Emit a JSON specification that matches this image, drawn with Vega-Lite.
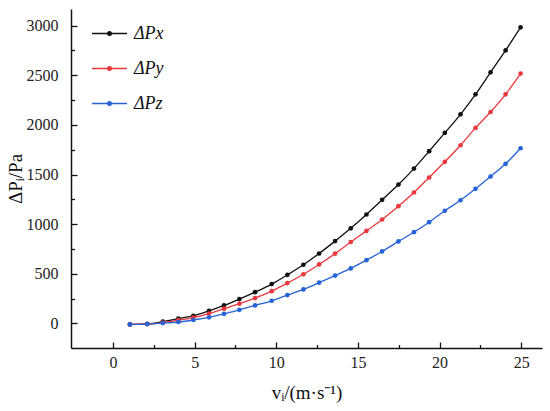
{
  "$schema": "https://vega.github.io/schema/vega-lite/v6.json",
  "width": 471,
  "height": 339,
  "autosize": {"type": "none"},
  "padding": {"left": 71, "top": 9, "right": 8, "bottom": 63},
  "background": "white",
  "config": {
    "view": {"stroke": null},
    "axis": {
      "grid": false,
      "domainColor": "#111111",
      "domainWidth": 1.5,
      "tickColor": "#111111",
      "tickWidth": 1.3,
      "labelFont": "Liberation Serif",
      "labelFontSize": 16,
      "labelColor": "#222222",
      "titleFont": "Liberation Serif",
      "titleFontSize": 19,
      "titleFontWeight": "normal",
      "titleColor": "#111111",
      "format": "d"
    }
  },
  "datasets": {
    "pts": [
      {"v": 1.04, "s": "ΔPx", "dp": -10}, {"v": 2.10, "s": "ΔPx", "dp": -5}, {"v": 3.05, "s": "ΔPx", "dp": 17}, {"v": 4.00, "s": "ΔPx", "dp": 48}, {"v": 4.92, "s": "ΔPx", "dp": 76}, {"v": 5.88, "s": "ΔPx", "dp": 126}, {"v": 6.80, "s": "ΔPx", "dp": 181}, {"v": 7.74, "s": "ΔPx", "dp": 245}, {"v": 8.70, "s": "ΔPx", "dp": 315}, {"v": 9.72, "s": "ΔPx", "dp": 396}, {"v": 10.68, "s": "ΔPx", "dp": 489}, {"v": 11.66, "s": "ΔPx", "dp": 591}, {"v": 12.62, "s": "ΔPx", "dp": 704}, {"v": 13.60, "s": "ΔPx", "dp": 829}, {"v": 14.56, "s": "ΔPx", "dp": 958}, {"v": 15.52, "s": "ΔPx", "dp": 1097}, {"v": 16.48, "s": "ΔPx", "dp": 1245}, {"v": 17.48, "s": "ΔPx", "dp": 1399}, {"v": 18.43, "s": "ΔPx", "dp": 1560}, {"v": 19.36, "s": "ΔPx", "dp": 1735}, {"v": 20.32, "s": "ΔPx", "dp": 1920}, {"v": 21.28, "s": "ΔPx", "dp": 2107}, {"v": 22.20, "s": "ΔPx", "dp": 2308}, {"v": 23.12, "s": "ΔPx", "dp": 2530}, {"v": 24.04, "s": "ΔPx", "dp": 2751}, {"v": 24.96, "s": "ΔPx", "dp": 2983},
      {"v": 1.04, "s": "ΔPy", "dp": -10}, {"v": 2.10, "s": "ΔPy", "dp": -6}, {"v": 3.05, "s": "ΔPy", "dp": 8}, {"v": 4.00, "s": "ΔPy", "dp": 32}, {"v": 4.92, "s": "ΔPy", "dp": 58}, {"v": 5.88, "s": "ΔPy", "dp": 99}, {"v": 6.80, "s": "ΔPy", "dp": 148}, {"v": 7.74, "s": "ΔPy", "dp": 198}, {"v": 8.70, "s": "ΔPy", "dp": 255}, {"v": 9.72, "s": "ΔPy", "dp": 325}, {"v": 10.68, "s": "ΔPy", "dp": 406}, {"v": 11.66, "s": "ΔPy", "dp": 495}, {"v": 12.62, "s": "ΔPy", "dp": 594}, {"v": 13.60, "s": "ΔPy", "dp": 703}, {"v": 14.56, "s": "ΔPy", "dp": 820}, {"v": 15.52, "s": "ΔPy", "dp": 932}, {"v": 16.48, "s": "ΔPy", "dp": 1047}, {"v": 17.48, "s": "ΔPy", "dp": 1181}, {"v": 18.43, "s": "ΔPy", "dp": 1319}, {"v": 19.36, "s": "ΔPy", "dp": 1470}, {"v": 20.32, "s": "ΔPy", "dp": 1628}, {"v": 21.28, "s": "ΔPy", "dp": 1795}, {"v": 22.20, "s": "ΔPy", "dp": 1970}, {"v": 23.12, "s": "ΔPy", "dp": 2130}, {"v": 24.04, "s": "ΔPy", "dp": 2308}, {"v": 24.96, "s": "ΔPy", "dp": 2517},
      {"v": 1.04, "s": "ΔPz", "dp": -10}, {"v": 2.10, "s": "ΔPz", "dp": -7}, {"v": 3.05, "s": "ΔPz", "dp": 3}, {"v": 4.00, "s": "ΔPz", "dp": 14}, {"v": 4.92, "s": "ΔPz", "dp": 34}, {"v": 5.88, "s": "ΔPz", "dp": 61}, {"v": 6.80, "s": "ΔPz", "dp": 96}, {"v": 7.74, "s": "ΔPz", "dp": 137}, {"v": 8.70, "s": "ΔPz", "dp": 181}, {"v": 9.72, "s": "ΔPz", "dp": 228}, {"v": 10.68, "s": "ΔPz", "dp": 285}, {"v": 11.66, "s": "ΔPz", "dp": 342}, {"v": 12.62, "s": "ΔPz", "dp": 410}, {"v": 13.60, "s": "ΔPz", "dp": 482}, {"v": 14.56, "s": "ΔPz", "dp": 554}, {"v": 15.52, "s": "ΔPz", "dp": 637}, {"v": 16.48, "s": "ΔPz", "dp": 725}, {"v": 17.48, "s": "ΔPz", "dp": 826}, {"v": 18.43, "s": "ΔPz", "dp": 919}, {"v": 19.36, "s": "ΔPz", "dp": 1020}, {"v": 20.32, "s": "ΔPz", "dp": 1135}, {"v": 21.28, "s": "ΔPz", "dp": 1241}, {"v": 22.20, "s": "ΔPz", "dp": 1356}, {"v": 23.12, "s": "ΔPz", "dp": 1480}, {"v": 24.04, "s": "ΔPz", "dp": 1608}, {"v": 24.96, "s": "ΔPz", "dp": 1765}
    ]
  },
  "data": {"name": "pts"},
  "layer": [
    {
      "mark": {"type": "line", "interpolate": "monotone", "strokeWidth": 1.3},
      "encoding": {
        "x": {
          "field": "v", "type": "quantitative",
          "scale": {"domain": [-2.57, 26.27], "nice": false, "zero": false},
          "axis": {"title": "vᵢ/(m·s⁻¹)", "values": [0, 5, 10, 15, 20, 25], "tickSize": -6, "labelPadding": 12, "titlePadding": 13}
        },
        "y": {
          "field": "dp", "type": "quantitative",
          "scale": {"domain": [-248, 3168], "nice": false, "zero": false},
          "axis": {"title": "ΔPᵢ/Pa", "values": [0, 500, 1000, 1500, 2000, 2500, 3000], "tickSize": -6, "labelPadding": 19, "titlePadding": 1}
        },
        "color": {
          "field": "s", "type": "nominal",
          "scale": {"domain": ["ΔPx", "ΔPy", "ΔPz"], "range": ["#111111", "#e8383d", "#2563d6"]},
          "legend": {
            "title": null,
            "orient": "none",
            "legendX": 20,
            "legendY": 6,
            "symbolType": "M-1,0L1,0M-0.1,0A0.1,0.1,0,1,0,0.1,0A0.1,0.1,0,1,0,-0.1,0M-0.05,0A0.05,0.05,0,1,0,0.05,0A0.05,0.05,0,1,0,-0.05,0",
            "symbolSize": 1225,
            "symbolStrokeWidth": 1.5,
            "labelFont": "Liberation Serif",
            "labelFontSize": 18,
            "labelFontStyle": "italic",
            "labelColor": "#111111",
            "labelOffset": 6,
            "rowPadding": 7
          }
        }
      }
    },
    {
      "mark": {"type": "point", "filled": true, "size": 22, "opacity": 1},
      "encoding": {
        "x": {
          "field": "v", "type": "quantitative",
          "axis": {"orient": "bottom", "values": [2.5, 7.5, 12.5, 17.5, 22.5], "tickSize": -3.5, "labels": false, "domain": false, "title": null}
        },
        "y": {
          "field": "dp", "type": "quantitative",
          "axis": {"orient": "left", "values": [-250, 250, 750, 1250, 1750, 2250, 2750], "tickSize": -3.5, "labels": false, "domain": false, "title": null}
        },
        "color": {"field": "s", "type": "nominal", "legend": null}
      }
    }
  ],
  "resolve": {"axis": {"x": "independent", "y": "independent"}}
}
